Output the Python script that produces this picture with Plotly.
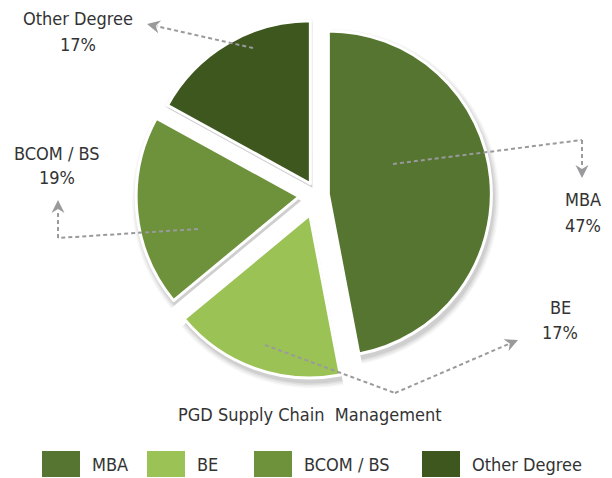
import math
import plotly.graph_objects as go

# ---- data ----
labels = ["MBA", "BE", "BCOM / BS", "Other Degree"]
values = [47, 17, 19, 17]
colors = ["#557530", "#9bc255", "#6e913c", "#3d571e"]
pulls = [0.07, 0.13, 0.11, 0.08]
title_text = "PGD Supply Chain  Management"

# page body has an 8px margin; figure sized to fit window
OFF = 8
W, H = 612 - OFF, 478 - OFF
FONT = "Liberation Sans Narrow, DejaVu Sans Condensed, Roboto, sans-serif"
TXT = "#333333"
LEAD = "#9a9a9c"
FS = 18

def fx(x):
    return (x - OFF) / W

def fy(y):
    return 1 - (y - OFF) / H

# pie geometry (window pixels)
cx, cy, r = 317, 195, 163

def clamp(v):
    return min(1.0, max(0.0, v))

def domain_for(cxp, cyp, rad, pl):
    half = rad * (1 + max(pl))
    return dict(x=[clamp(fx(cxp - half)), clamp(fx(cxp + half))],
                y=[clamp(fy(cyp + half)), clamp(fy(cyp - half))])

fig = go.Figure()

# soft shadow layers (same pull distance in pixels as the main pie)
for extra, alpha in [(6, 0.035), (4.5, 0.045), (3, 0.055), (1.5, 0.065)]:
    rs = r + extra
    spull = [p * r / rs for p in pulls]
    fig.add_trace(go.Pie(
        labels=labels, values=values, sort=False, direction="clockwise", rotation=0,
        pull=spull, textinfo="none", hoverinfo="skip", showlegend=False,
        marker=dict(colors=[f"rgba(0,0,0,{alpha})"] * len(values), line=dict(width=0)),
        domain=domain_for(cx + 2, cy + 4, rs, spull),
    ))

fig.add_trace(go.Pie(
    labels=labels, values=values, sort=False, direction="clockwise", rotation=0,
    pull=pulls, textinfo="none", showlegend=False,
    marker=dict(colors=colors, line=dict(color="white", width=3)),
    domain=domain_for(cx, cy, r, pulls),
))

total = sum(values)
pcts = [f"{round(v / total * 100)}%" for v in values]

# label positions (pixels): name center x, name y, pct y
label_pos = [(583, 200, 225), (560, 307, 332), (57, 153, 177), (78, 18, 44)]
# leader polylines (pixels), last point is arrow tip
leaders = [
    [(393, 164), (582, 140), (582, 178)],
    [(265, 345), (395, 393), (518, 340)],
    [(198, 229), (58, 238), (58, 200)],
    [(253, 48), (147, 24)],
]

annotations = []
shapes = []

def txt(x, y, s, anchor="center"):
    annotations.append(dict(x=fx(x), y=fy(y), xref="paper", yref="paper", text=s,
                            xanchor=anchor, yanchor="middle", showarrow=False,
                            font=dict(family=FONT, size=FS, color=TXT)))

for i, lab in enumerate(labels):
    x, y1, y2 = label_pos[i]
    txt(x, y1, lab)
    txt(x, y2, pcts[i])
    pts = leaders[i]
    for j in range(len(pts) - 1):
        (x0, y0), (x1, y1_) = pts[j], pts[j + 1]
        if j == len(pts) - 2:
            d = math.hypot(x1 - x0, y1_ - y0)
            x1 = x1 - (x1 - x0) / d * 10
            y1_ = y1_ - (y1_ - y0) / d * 10
        shapes.append(dict(type="line", xref="paper", yref="paper",
                           x0=fx(x0), y0=fy(y0), x1=fx(x1), y1=fy(y1_),
                           line=dict(color=LEAD, width=2, dash="4px,3px")))
    (x0, y0), (tx, ty) = pts[-2], pts[-1]
    d = math.hypot(tx - x0, ty - y0)
    ux, uy = (tx - x0) / d, (ty - y0) / d
    L, Wd = 13, 6.5
    bx, by = tx - ux * L, ty - uy * L
    px_, py_ = -uy, ux
    p1 = (bx + px_ * Wd, by + py_ * Wd)
    p2 = (bx - px_ * Wd, by - py_ * Wd)
    path = (f"M {fx(tx)},{fy(ty)} L {fx(p1[0])},{fy(p1[1])} "
            f"L {fx(bx + ux*4)},{fy(by + uy*4)} L {fx(p2[0])},{fy(p2[1])} Z")
    shapes.append(dict(type="path", xref="paper", yref="paper", path=path,
                       fillcolor=LEAD, line=dict(width=0)))

# title below pie
txt(310, 414, title_text)

# custom legend
leg_sq_x = [42, 147, 254, 422]
for i, lab in enumerate(labels):
    x0 = leg_sq_x[i]
    shapes.append(dict(type="rect", xref="paper", yref="paper",
                       x0=fx(x0), x1=fx(x0 + 38), y0=fy(477), y1=fy(451),
                       fillcolor=colors[i], line=dict(width=0)))
    txt(x0 + 48, 464, lab, anchor="left")

fig.update_layout(
    width=W, height=H, margin=dict(l=0, r=0, t=0, b=0),
    paper_bgcolor="white", plot_bgcolor="white",
    showlegend=False, annotations=annotations, shapes=shapes,
)
fig.write_html("out.html")
